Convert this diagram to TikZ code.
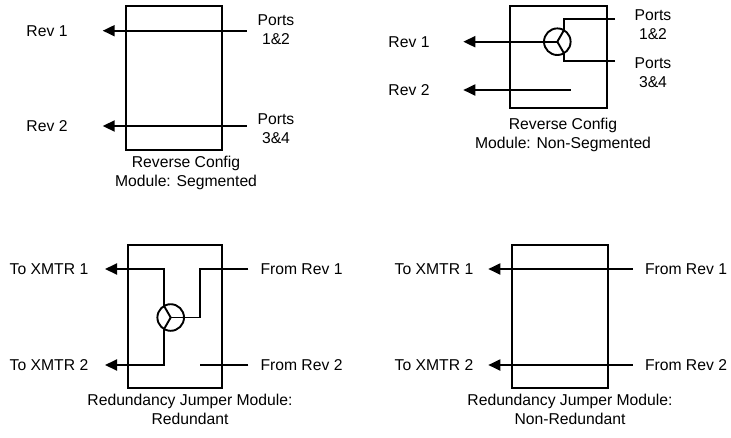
\documentclass[tikz,border=0pt]{standalone}
\usepackage{fontspec}
\setmainfont{Liberation Sans}
\usetikzlibrary{arrows.meta}
\begin{document}
\begin{tikzpicture}[x=1pt,y=-1pt,
  wire/.style={line width=1.9pt},
  sig/.style={line width=1.9pt,-{Triangle[length=12pt,width=11pt]}},
  combiner/.style={draw,circle,line width=1.9pt,minimum size=26.6pt,inner sep=0pt,outer sep=0pt},
  lbl/.style={font=\fontsize{15.7}{19}\selectfont,inner sep=0pt,align=center}]
\useasboundingbox (0,0) rectangle (731,437);

% ---------- Panel 1: Segmented ----------
\draw[line width=2pt] (125.7,6) rectangle (222.3,150);
\coordinate (p1a) at (246.7,30.7);
\coordinate (r1a) at (102.7,30.7);
\coordinate (p1b) at (246.7,126);
\coordinate (r1b) at (102.7,126);
\draw[sig] (p1a) -- (r1a);
\draw[sig] (p1b) -- (r1b);
\node[lbl] (rev1a) at (47,30.7) {Rev 1};
\node[lbl] (rev2a) at (47,126) {Rev 2};
\node[lbl] (ports12a) at (276,30) {Ports\\1\&2};
\node[lbl] (ports34a) at (276,129) {Ports\\3\&4};
\node[lbl] (cap1) at (186,173) {Reverse Config\\Module: Segmented};

% ---------- Panel 2: Non-Segmented ----------
\draw[line width=2pt] (510,6) rectangle (606.7,108.3);
\node[combiner] (c2) at (557.3,41.7) {};
\draw[wire] (c2.center) -- (c2.60);
\draw[wire] (c2.center) -- (c2.-60);
\draw[wire] (c2.center) -- (c2.180);
\coordinate (p2a) at (615,19);
\coordinate (p2b) at (615,61);
\coordinate (r2a) at (463.3,41.7);
\coordinate (s2b) at (570.7,90);
\coordinate (r2b) at (463.3,90);
\draw[wire] (p2a) -| (c2.60);
\draw[wire] (p2b) -| (c2.-60);
\draw[sig] (c2.180) -- (r2a);
\draw[sig] (s2b) -- (r2b);
\node[lbl] (rev1b) at (409,42) {Rev 1};
\node[lbl] (rev2b) at (409,90) {Rev 2};
\node[lbl] (ports12b) at (653,25) {Ports\\1\&2};
\node[lbl] (ports34b) at (653,73) {Ports\\3\&4};
\node[lbl] (cap2) at (563,135) {Reverse Config\\Module: Non-Segmented};

% ---------- Panel 3: Redundant ----------
\draw[line width=2pt] (127.7,245) rectangle (222.3,388.3);
\node[combiner] (c3) at (170.7,317.5) {};
\draw[wire] (c3.center) -- (c3.120);
\draw[wire] (c3.center) -- (c3.240);
\draw[wire] (c3.center) -- (c3.0);
\coordinate (x3a) at (105,269);
\coordinate (x3b) at (105,365);
\coordinate (f3a) at (248.3,269);
\coordinate (j3a) at (200,269);
\coordinate (f3b) at (248.3,365);
\coordinate (s3b) at (200,365);
\draw[sig] (c3.120) |- (x3a);
\draw[sig] (c3.240) |- (x3b);
\draw[wire] (f3a) -- (j3a) |- (c3.0);
\draw[wire] (f3b) -- (s3b);
\node[lbl] (tx1a) at (49,269) {To XMTR 1};
\node[lbl] (tx2a) at (49,365) {To XMTR 2};
\node[lbl] (fr1a) at (301.5,269) {From Rev 1};
\node[lbl] (fr2a) at (301.5,365) {From Rev 2};
\node[lbl] (cap3) at (190,409) {Redundancy Jumper Module:\\Redundant};

% ---------- Panel 4: Non-Redundant ----------
\draw[line width=2pt] (512.3,245) rectangle (608.3,388.3);
\coordinate (f4a) at (632.7,269);
\coordinate (x4a) at (488.3,269);
\coordinate (f4b) at (632.7,365);
\coordinate (x4b) at (488.3,365);
\draw[sig] (f4a) -- (x4a);
\draw[sig] (f4b) -- (x4b);
\node[lbl] (tx1b) at (434,269) {To XMTR 1};
\node[lbl] (tx2b) at (434,365) {To XMTR 2};
\node[lbl] (fr1b) at (686,269) {From Rev 1};
\node[lbl] (fr2b) at (686,365) {From Rev 2};
\node[lbl] (cap4) at (570,409) {Redundancy Jumper Module:\\Non-Redundant};
\end{tikzpicture}
\end{document}
